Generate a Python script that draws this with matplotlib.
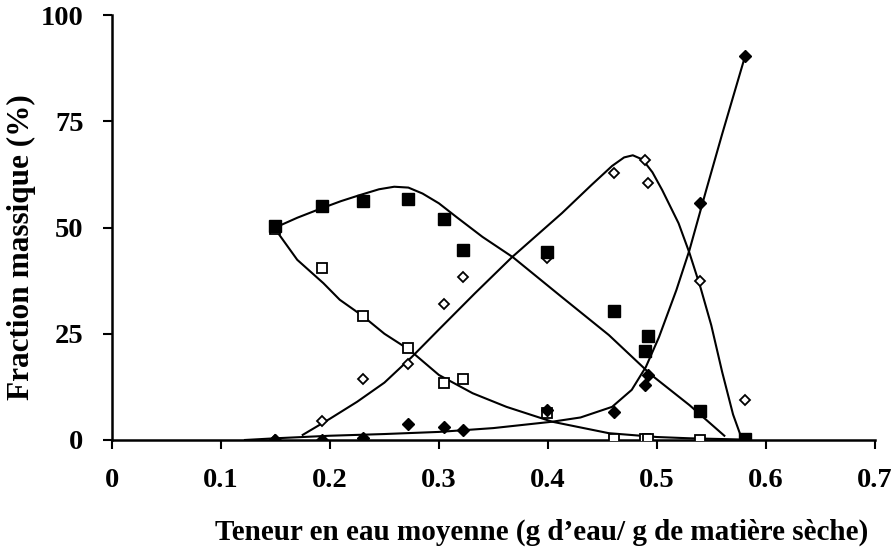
import matplotlib
matplotlib.use("Agg")
import matplotlib.pyplot as plt

plt.rcParams['font.family'] = ['Liberation Serif', 'DejaVu Serif']
plt.rcParams['font.weight'] = 'bold'

# Measured points (water content, mass fraction %)
teneur = [0.15, 0.193, 0.23, 0.272, 0.305, 0.322, 0.399, 0.461, 0.489, 0.492, 0.54, 0.581]
carre_plein = [50.4, 55.0, 56.2, 56.7, 51.9, 44.7, 44.2, 30.4, 21.0, 24.5, 6.8, 0.3]
carre_vide = [49.6, 40.4, 29.1, 21.6, 13.3, 14.3, 6.3, 0.2, 0.2, 0.2, 0.1, 0.0]
losange_vide = [0.0, 4.5, 14.4, 18.0, 32.0, 38.4, 42.8, 62.8, 65.9, 60.4, 37.4, 9.4]
losange_plein = [0.0, 0.0, 0.4, 3.8, 3.0, 2.3, 7.0, 6.5, 12.9, 15.3, 55.8, 90.3]

# Fitted trend curves
fit_cp_x = [0.149, 0.170, 0.191, 0.210, 0.227, 0.245, 0.259, 0.272, 0.285, 0.300, 0.316, 0.340,
            0.368, 0.413, 0.456, 0.495, 0.530, 0.562]
fit_cp_y = [49.9, 52.3, 54.4, 56.2, 57.6, 59.0, 59.6, 59.4, 58.0, 55.7, 52.5, 47.8,
            43.0, 33.6, 24.7, 15.3, 8.2, 1.0]

fit_cv_x = [0.149, 0.170, 0.194, 0.209, 0.230, 0.250, 0.273, 0.300, 0.331, 0.362, 0.404,
            0.456, 0.500, 0.530, 0.580]
fit_cv_y = [49.9, 42.4, 36.9, 33.0, 29.2, 25.0, 21.2, 15.3, 11.0, 7.8, 4.3,
            1.6, 0.7, 0.4, 0.1]

fit_lv_x = [0.175, 0.200, 0.225, 0.250, 0.275, 0.300, 0.333, 0.367, 0.413, 0.440, 0.459,
            0.470, 0.478, 0.487, 0.496, 0.505, 0.520, 0.530, 0.540, 0.550, 0.560, 0.570, 0.578]
fit_lv_y = [1.2, 5.0, 9.0, 13.5, 19.5, 26.0, 34.5, 43.0, 53.4, 60.0, 64.5,
            66.5, 67.0, 66.0, 63.0, 58.8, 51.0, 44.0, 36.0, 27.0, 16.0, 6.0, 0.3]

fit_lp_x = [0.122, 0.150, 0.200, 0.250, 0.300, 0.350, 0.404, 0.430, 0.459, 0.477, 0.490,
            0.502, 0.518, 0.530, 0.545, 0.560, 0.581]
fit_lp_y = [0.0, 0.4, 1.0, 1.4, 1.9, 2.8, 4.3, 5.3, 7.8, 11.8, 17.2,
            24.2, 35.3, 44.7, 58.5, 72.0, 90.3]

fig = plt.figure(figsize=(8.92, 5.54), dpi=100)
ax = fig.add_axes([0.1256, 0.2058, 0.855, 0.767])

for fx, fy in [(fit_cp_x, fit_cp_y), (fit_cv_x, fit_cv_y), (fit_lv_x, fit_lv_y), (fit_lp_x, fit_lp_y)]:
    ax.plot(fx, fy, color='black', lw=1.5, zorder=2)

ax.plot(teneur, carre_vide, 's', ms=6.8, mfc='white', mec='black', mew=1.3, zorder=3)
ax.plot(teneur, losange_vide, 'D', ms=5.5, mfc='white', mec='black', mew=1.3, zorder=3)
ax.plot(teneur, carre_plein, 's', ms=8.5, color='black', zorder=4)
ax.plot(teneur, losange_plein, 'D', ms=6.5, color='black', zorder=4)

ax.set_xlim(0, 0.7)
ax.set_ylim(0, 100)
ax.set_xticks([0, 0.1, 0.2, 0.3, 0.4, 0.5, 0.6, 0.7])
ax.set_xticklabels(['0', '0.1', '0.2', '0.3', '0.4', '0.5', '0.6', '0.7'])
ax.set_yticks([0, 25, 50, 75, 100])

for s in ['top', 'right']:
    ax.spines[s].set_visible(False)
for s in ['left', 'bottom']:
    ax.spines[s].set_linewidth(1.8)

ax.tick_params(axis='both', direction='out', length=6.5, width=1.5, labelsize=20.5)
ax.tick_params(axis='y', pad=14)
ax.tick_params(axis='x', pad=14)

ax.set_xlabel('Teneur en eau moyenne (g d\u2019eau/ g de mati\u00e8re s\u00e8che)', fontsize=21,
              fontweight='bold', labelpad=18, x=0.563)
ax.set_ylabel('Fraction massique (%)', fontsize=22.5, fontweight='bold')
ax.yaxis.set_label_coords(-0.1, 0.454)

fig.savefig('out.png', dpi=100)
